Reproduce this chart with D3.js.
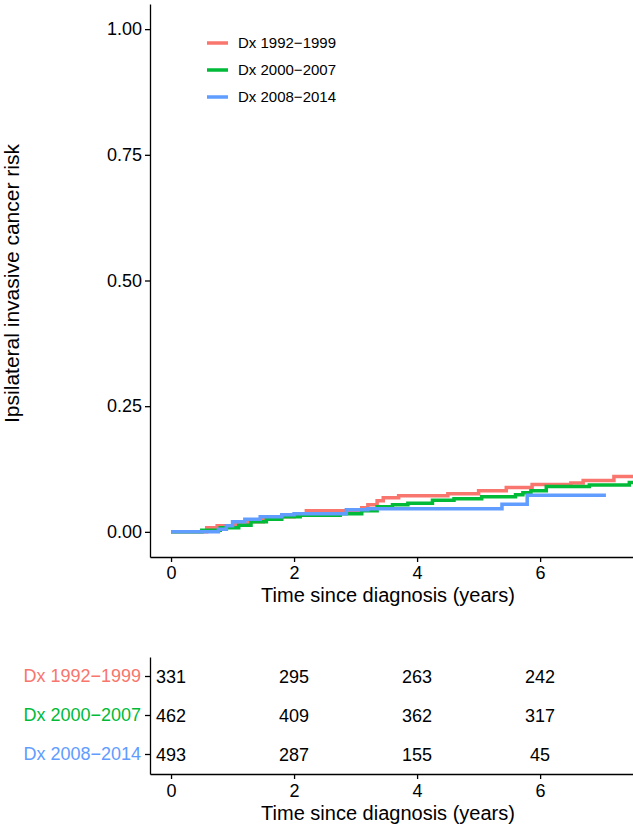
<!DOCTYPE html>
<html>
<head>
<meta charset="utf-8">
<script src="https://cdn.jsdelivr.net/npm/d3@7"></script>
<style>
  body { margin: 0; background: #fff; }
  svg { display: block; font-family: "Liberation Sans", Arial, Helvetica, sans-serif; }
  .axis path, .axis line { stroke: #000; stroke-width: 1.3; }
  .axis text { fill: #000; font-size: 18px; }
</style>
</head>
<body>
<svg class="chart" width="633" height="824"></svg>
<script>
// strata names and colours
var strata = ["Dx 1992\u22121999", "Dx 2000\u22122007", "Dx 2008\u22122014"];
var colors = ["#F8766D", "#00BA38", "#619CFF"];

// step curves (time in years, cumulative risk)
var times1992 = [0, 0.58, 0.75, 1.05, 1.25, 1.5, 1.75, 2.0, 2.2, 3.1, 3.2, 3.35, 3.45, 3.7, 4.5, 5.0, 5.45, 5.87, 6.5, 6.7, 7.2, 7.6];
var risk1992  = [0, 0.008, 0.012, 0.015, 0.02, 0.025, 0.03, 0.033, 0.042, 0.048, 0.054, 0.062, 0.068, 0.072, 0.076, 0.082, 0.088, 0.094, 0.097, 0.102, 0.11, 0.11];

var times2000 = [0, 0.5, 0.8, 1.1, 1.3, 1.55, 1.8, 2.1, 2.75, 3.1, 3.35, 3.6, 3.85, 4.25, 4.6, 5.05, 5.6, 5.72, 5.85, 6.1, 6.8, 7.45, 7.6];
var risk2000  = [0, 0.003, 0.008, 0.013, 0.02, 0.025, 0.03, 0.033, 0.036, 0.042, 0.05, 0.054, 0.057, 0.063, 0.066, 0.07, 0.074, 0.078, 0.082, 0.09, 0.093, 0.098, 0.098];

var times2008 = [0, 0.77, 0.9, 1.0, 1.2, 1.45, 1.8, 2.0, 2.85, 3.2, 5.38, 5.79, 7.07];
var risk2008  = [0, 0.005, 0.012, 0.02, 0.025, 0.03, 0.034, 0.036, 0.044, 0.046, 0.055, 0.073, 0.073];

// number at risk table
var riskTimes = [0, 2, 4, 6];
var atRisk1992 = [331, 295, 263, 242];
var atRisk2000 = [462, 409, 362, 317];
var atRisk2008 = [493, 287, 155, 45];

var xTicks = [0, 2, 4, 6];
var yTicks = [0, 0.25, 0.5, 0.75, 1.0];

var series = [
  { name: strata[0], color: colors[0], t: times1992, v: risk1992, n: atRisk1992 },
  { name: strata[1], color: colors[1], t: times2000, v: risk2000, n: atRisk2000 },
  { name: strata[2], color: colors[2], t: times2008, v: risk2008, n: atRisk2008 }
];

var svg = d3.select(".chart");

var plotLeft = 150, plotRight = 633, plotTop = 4, plotBottom = 557;

var x = d3.scaleLinear().domain([-0.342, 7.51]).range([plotLeft, plotRight]);
var y = d3.scaleLinear().domain([-0.05, 1.05]).range([plotBottom, plotTop]);

svg.append("defs").append("clipPath").attr("id", "panel")
  .append("rect")
  .attr("x", plotLeft).attr("y", plotTop)
  .attr("width", plotRight - plotLeft).attr("height", plotBottom - plotTop);

// curves
var line = d3.line()
  .x(function(d) { return x(d[0]); })
  .y(function(d) { return y(d[1]); })
  .curve(d3.curveStepAfter);

svg.append("g").attr("clip-path", "url(#panel)")
  .selectAll("path")
  .data(series)
  .enter()
  .append("path")
  .attr("fill", "none")
  .attr("stroke", function(d) { return d.color; })
  .attr("stroke-width", 3.5)
  .attr("d", function(d) { return line(d.t.map(function(t, i) { return [t, d.v[i]]; })); });

// axes
svg.append("g")
  .attr("class", "axis")
  .attr("transform", "translate(0," + plotBottom + ")")
  .call(d3.axisBottom(x).tickValues(xTicks).tickSize(5).tickSizeOuter(0).tickPadding(4));

svg.append("g")
  .attr("class", "axis")
  .attr("transform", "translate(" + plotLeft + ",0)")
  .call(d3.axisLeft(y).tickValues(yTicks).tickFormat(d3.format(".2f")).tickSize(5).tickSizeOuter(0).tickPadding(3));

svg.append("text")
  .attr("x", 388)
  .attr("y", 602)
  .attr("text-anchor", "middle")
  .style("font-size", "20px")
  .text("Time since diagnosis (years)");

svg.append("text")
  .attr("transform", "translate(19," + ((plotTop + plotBottom) / 2 + 3) + ") rotate(-90)")
  .attr("text-anchor", "middle")
  .style("font-size", "21px")
  .text("Ipsilateral invasive cancer risk");

// legend
var legend = svg.selectAll(".legend")
  .data(series)
  .enter()
  .append("g")
  .attr("class", "legend")
  .attr("transform", function(d, i) { return "translate(207," + (43 + i * 27) + ")"; });

legend.append("line")
  .attr("x1", 0).attr("x2", 21)
  .attr("stroke", function(d) { return d.color; })
  .attr("stroke-width", 3.5);

legend.append("text")
  .attr("x", 31)
  .attr("dy", "0.35em")
  .style("font-size", "15px")
  .text(function(d) { return d.name; });

// risk table
var tableTop = 657, tableBottom = 774;
var row = d3.scaleBand().domain(strata).range([tableTop, tableBottom]);

svg.append("g")
  .attr("class", "axis")
  .attr("transform", "translate(0," + tableBottom + ")")
  .call(d3.axisBottom(x).tickValues(xTicks).tickSize(5).tickSizeOuter(0).tickPadding(5));

var tableYAxis = svg.append("g")
  .attr("class", "axis")
  .attr("transform", "translate(" + plotLeft + ",0)")
  .call(d3.axisLeft(row).tickSize(5).tickSizeOuter(0).tickPadding(4));
tableYAxis.selectAll(".tick text")
  .style("fill", function(d, i) { return colors[i]; });

series.forEach(function(s) {
  svg.append("g").selectAll("text")
    .data(s.n)
    .enter()
    .append("text")
    .attr("x", function(d, i) { return x(riskTimes[i]); })
    .attr("y", row(s.name) + row.bandwidth() / 2)
    .attr("dy", "0.35em")
    .attr("text-anchor", "middle")
    .style("font-size", "18px")
    .text(function(d) { return d; });
});

svg.append("text")
  .attr("x", 388)
  .attr("y", 820)
  .attr("text-anchor", "middle")
  .style("font-size", "20px")
  .text("Time since diagnosis (years)");
</script>
</body>
</html>
